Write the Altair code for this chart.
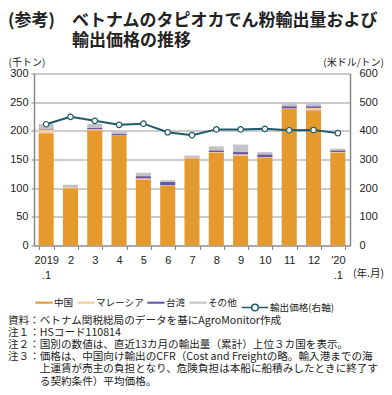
import altair as alt
import pandas as pd

months = ["2019|.1", "2", "3", "4", "5", "6", "7", "8", "9", "10", "11", "12", "'20|.1"]
countries = ["中国", "マレーシア", "台湾", "その他"]
china = [196, 100, 201, 191, 115, 104, 152, 162, 157, 153, 238, 236, 162]
malaysia = [6, 2, 2, 1, 2, 1, 2, 1, 2, 1, 1, 4, 1]
taiwan = [1, 1, 2, 3, 4, 6, 1, 3, 4, 5, 4, 3, 3]
other = [9, 3, 7, 4, 6, 3, 2, 7, 13, 4, 7, 7, 3]
price = [423, 449, 435, 421, 425, 395, 385, 405, 405, 407, 402, 403, 392]
price_label = "輸出価格(右軸)"
left_ticks = [0, 50, 100, 150, 200, 250, 300]
right_ticks = [0, 100, 200, 300, 400, 500, 600]
title_tag = "(参考)"
title_line1 = "ベトナムのタピオカでん粉輸出量および"
title_line2 = "輸出価格の推移"
left_unit = "(千トン)"
right_unit = "(米ドル/トン)"
x_unit = "(年.月)"
notes_main = [
    "資料：ベトナム関税総局のデータを基にAgroMonitor作成",
    "注１：HSコード110814",
    "注２：国別の数値は、直近13カ月の輸出量（累計）上位３カ国を表示。",
    "注３：価格は、中国向け輸出のCFR（Cost and Freightの略。輸入港までの海",
]
notes_cont = [
    "上運賃が売主の負担となり、危険負担は本船に船積みしたときに終了す",
    "る契約条件）平均価格。",
]

bar_colors = ["#E69A2E", "#F5CE9C", "#6A56A6", "#C4C4C8"]
line_color = "#1F5A68"
JP = "Noto Sans CJK JP"
NUM = "Liberation Sans"
TXT = "#222222"

rows = []
for i, m in enumerate(months):
    for j, (c, vals) in enumerate(zip(countries, [china, malaysia, taiwan, other])):
        rows.append({"month": m, "country": c, "ord": j, "value": vals[i]})
bars_df = pd.DataFrame(rows)
price_df = pd.DataFrame({"month": months, "price": price, "series": [price_label] * len(months)})

W, H = 316, 172
x_enc = alt.X(
    "month:O", sort=months,
    scale=alt.Scale(paddingInner=0.38, paddingOuter=0.19),
    axis=alt.Axis(title=None, labelExpr="split(datum.label, '|')", labelAngle=0,
                  tickBand="extent", tickSize=4, tickColor="#888888", domainColor="#888888",
                  labelFont=NUM, labelFontSize=11, labelColor=TXT, labelPadding=5,
                  labelLineHeight=15, grid=False, labelBaseline="top"),
)

bars = alt.Chart(bars_df).mark_bar().encode(
    x=x_enc,
    y=alt.Y("value:Q", stack="zero", scale=alt.Scale(domain=[0, 300]),
            axis=alt.Axis(values=left_ticks, grid=True, gridColor="#BBBBBB", gridWidth=1.3,
                          domainColor="#888888", domainWidth=1.5, tickColor="#888888", tickSize=3,
                          labelFont=NUM, labelFontSize=11, labelColor=TXT, labelPadding=3,
                          title=left_unit, titleAngle=0, titleX=-26, titleY=-11.5,
                          titleAlign="left", titleBaseline="middle", titleFont=JP,
                          titleFontSize=10, titleFontWeight="normal", titleColor=TXT)),
    color=alt.Color("country:N", scale=alt.Scale(domain=countries, range=bar_colors),
                    legend=alt.Legend(orient="none", legendX=1, legendY=220, direction="horizontal",
                                      title=None, symbolType="M-1,-0.12L1,-0.12L1,0.12L-1,0.12Z",
                                      symbolSize=300, symbolStrokeWidth=0, symbolOpacity=1,
                                      labelFont=JP, labelFontSize=9.6, labelColor=TXT,
                                      labelOffset=1, columnPadding=3)),
    order=alt.Order("ord:Q"),
)

line = alt.Chart(price_df).mark_line(strokeWidth=2).encode(
    x=x_enc,
    y=alt.Y("price:Q", scale=alt.Scale(domain=[0, 600]),
            axis=alt.Axis(orient="right", values=right_ticks, grid=False,
                          domainColor="#888888", domainWidth=1.5, tickSize=0,
                          labelFont=NUM, labelFontSize=11, labelColor=TXT, labelPadding=9,
                          title=right_unit, titleAngle=0, titleX=33.5, titleY=-11.5,
                          titleAlign="right", titleBaseline="middle", titleFont=JP,
                          titleFontSize=10, titleFontWeight="normal", titleColor=TXT)),
    stroke=alt.Stroke("series:N", scale=alt.Scale(range=[line_color]),
                      legend=alt.Legend(orient="none", legendX=207, legendY=220, title=None,
                                        symbolType="M-1,0L-0.25,0M0.25,0L1,0M-0.25,0A0.25,0.25,0,1,0,0.25,0A0.25,0.25,0,1,0,-0.25,0",
                                        symbolSize=700, symbolStrokeWidth=1.5, symbolFillColor="white",
                                        labelFont=JP, labelFontSize=9.6, labelColor=TXT, labelOffset=1)),
)

pts = alt.Chart(price_df).mark_point(shape="circle", filled=True, fill="white", stroke=line_color,
                                     strokeWidth=1.2, size=30, opacity=1).encode(
    x=x_enc,
    y=alt.Y("price:Q", scale=alt.Scale(domain=[0, 600]), axis=None),
)

one = pd.DataFrame({"a": [0]})


def txt(text, x, y, size, align="left", baseline="middle", weight="normal", font=JP):
    return alt.Chart(one).mark_text(text=text, align=align, baseline=baseline, fontSize=size,
                                    fontWeight=weight, font=font, color=TXT).encode(
        x=alt.value(x), y=alt.value(y))


NS = 10.6
NLH = 12.2
NY0 = 247
texts = [
    txt(title_tag, -26, -53, 17, weight="bold"),
    txt(title_line1, 38, -53, 17, weight="bold"),
    txt(title_line2, 38, -32.5, 17, weight="bold"),
    txt(x_unit, 350, 200.5, 10.5, align="right"),
]
for k, s in enumerate(notes_main):
    texts.append(txt(s, -26, NY0 + k * NLH, NS))
for k, s in enumerate(notes_cont):
    texts.append(txt(s, -26 + 3 * NS, NY0 + (len(notes_main) + k) * NLH, NS))

chart = alt.layer(bars, line, pts, *texts).resolve_scale(
    y="independent", color="independent"
).properties(
    width=W, height=H,
    autosize=alt.AutoSizeParams(type="none"),
    padding={"left": 26, "top": 65.5, "right": 34, "bottom": 141.5},
).configure_view(stroke=None).configure(background="white")

chart.save("out.html", embed_options={"renderer": "svg", "actions": False})
